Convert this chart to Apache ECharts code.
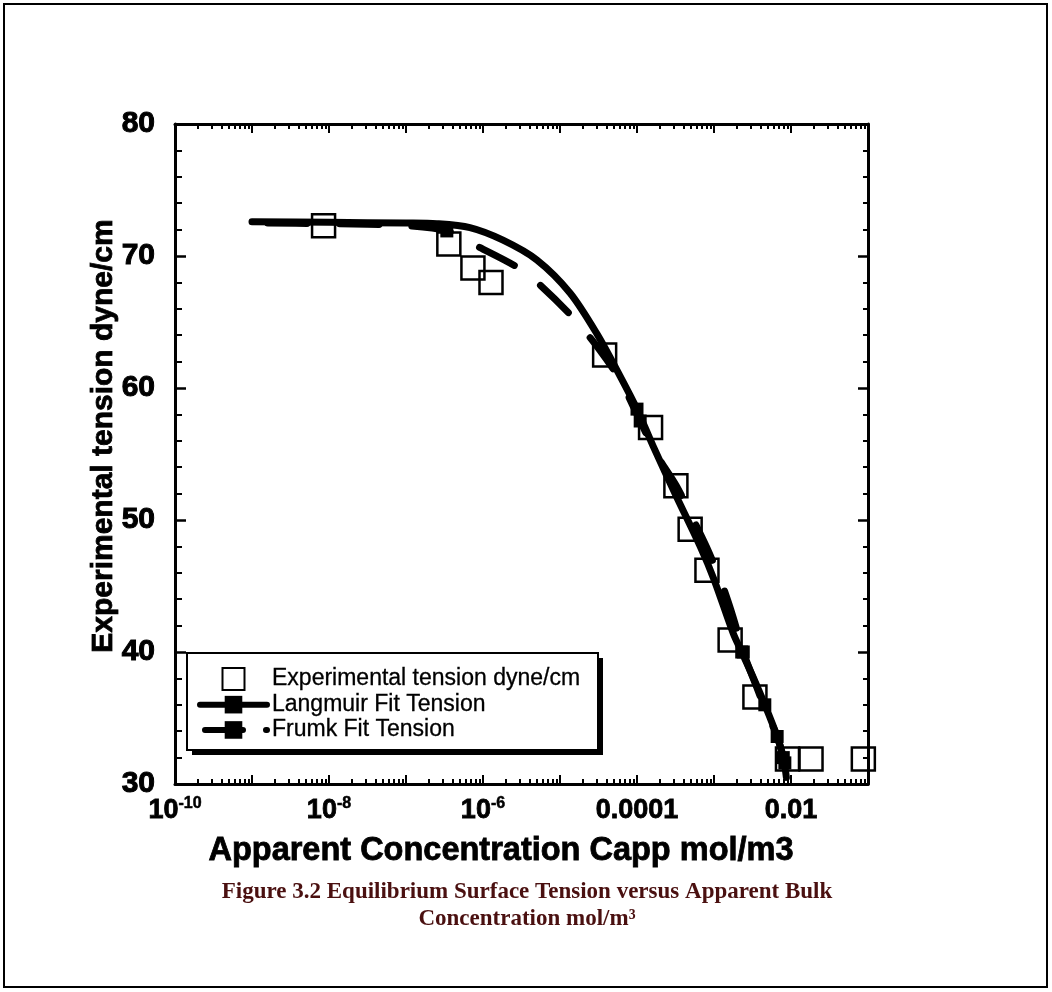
<!DOCTYPE html>
<html><head><meta charset="utf-8">
<script src="https://cdn.jsdelivr.net/npm/echarts@6/dist/echarts.min.js"></script>
<style>html,body{margin:0;padding:0;background:#fff}#c{width:1052px;height:992px}</style>
</head><body><div id="c"></div>
<script>
// ---- data ----
const expConc    = [8.5e-9, 3.6e-7, 7.4e-7, 1.27e-6, 3.8e-5, 1.5e-4, 3.2e-4, 4.9e-4, 8.1e-4, 1.62e-3, 3.4e-3, 9.0e-3, 1.82e-2, 8.7e-2];
const expTension = [72.3, 70.9, 69.1, 68.0, 62.5, 57.0, 52.6, 49.3, 46.2, 40.9, 36.6, 31.9, 31.9, 31.9];

const langConc    = [1e-9, 1e-8, 1e-7, 2.51e-7, 6.76e-7, 1.82e-6, 5.01e-6, 1.35e-5, 3.02e-5, 6.03e-5, 1.0e-4, 1.62e-4, 3.24e-4, 6.61e-4, 1.0e-3, 1.78e-3, 2.29e-3, 3.16e-3, 4.57e-3, 6.61e-3, 7.94e-3, 8.71e-3];
const langTension = [72.6, 72.55, 72.5, 72.45, 72.15, 71.2, 69.7, 67.2, 64.1, 60.9, 58.4, 55.6, 51.8, 48.0, 45.5, 41.4, 40.0, 38.2, 36.0, 33.6, 32.0, 30.5];
const langMarked  = [0,0,0,0,0,0,0,0,0,0,1,0,0,0,0,0,1,0,1,0,1,0];

const frumConc    = [1e-9, 1e-8, 1e-7, 3.39e-7, 8.71e-7, 2.88e-6, 5.75e-6, 1.55e-5, 3.16e-5, 6.03e-5, 1.10e-4, 1.78e-4, 3.24e-4, 5.01e-4, 7.94e-4, 1.26e-3, 1.78e-3, 2.40e-3, 3.55e-3, 5.01e-3, 6.61e-3, 8.32e-3, 9.33e-3];
const frumTension = [72.5, 72.45, 72.3, 71.9, 70.7, 69.1, 67.7, 65.2, 63.0, 60.6, 57.5, 55.0, 52.6, 50.4, 48.0, 45.2, 42.6, 40.0, 37.4, 35.2, 33.6, 31.6, 30.3];
const frumMarked  = [0,0,0,1,0,0,0,0,0,0,1,0,0,0,0,0,0,1,0,0,1,1,0];

const xLabelValues = [1e-10, 1e-8, 1e-6, 1e-4, 1e-2];
const xLabelTexts  = ['10^-10', '10^-8', '10^-6', '0.0001', '0.01'];
const xDecadeTicks = [1e-10, 1e-9, 1e-8, 1e-7, 1e-6, 1e-5, 1e-4, 1e-3, 1e-2, 1e-1];
const xMinorTicks = [];
xDecadeTicks.slice(0, -1).forEach(d => { for (let k = 2; k <= 9; k++) xMinorTicks.push(+(k * d).toPrecision(3)); });

const yMin = 30, yMax = 80, yStep = 10;

const xTitle = 'Apparent Concentration Capp mol/m3';
const yTitle = 'Experimental tension dyne/cm';
const caption1 = 'Figure 3.2 Equilibrium Surface Tension versus Apparent Bulk';
const caption2 = 'Concentration mol/m³';

// ---- helpers ----
function fmtX(v) {
  let best = 0, bd = Infinity;
  xLabelValues.forEach((lv, i) => { const d = Math.abs(Math.log10(lv) - Math.log10(v)); if (d < bd) { bd = d; best = i; } });
  if (bd > 0.01) return '';
  const t = xLabelTexts[best];
  if (t.indexOf('^') >= 0) { const p = t.split('^'); return '{b|' + p[0] + '}{s|' + p[1] + '}'; }
  return '{b|' + t + '}';
}
function lineData(xs, ys, marks) {
  return xs.map((x, i) => marks[i] ? { value: [x, ys[i]] } : { value: [x, ys[i]], symbol: 'none' });
}

const boldFont = 'Liberation Sans';
const axLine = { show: true, lineStyle: { color: '#000', width: 3 } };

function xAxisDef(pos, ticks, len, showLine, labels) {
  return {
    type: 'log', logBase: 10, min: 1e-10, max: 1e-1, position: pos, gridIndex: 0,
    axisLine: showLine ? axLine : { show: false },
    axisTick: { show: true, inside: true, length: len, customValues: ticks, lineStyle: { color: '#000', width: 2 } },
    axisLabel: labels ? {
      show: true, customValues: xLabelValues, formatter: fmtX, margin: 12, color: '#000',
      rich: {
        b: { fontFamily: boldFont, fontWeight: 'bold', fontSize: 27, color: '#000', textBorderColor: '#000', textBorderWidth: 0.8, lineHeight: 30 },
        s: { fontFamily: boldFont, fontWeight: 'bold', fontSize: 16, color: '#000', textBorderColor: '#000', textBorderWidth: 0.5, lineHeight: 30, verticalAlign: 'top' }
      }
    } : { show: false },
    splitLine: { show: false }, minorTick: { show: false }
  };
}

const xAxes = [
  xAxisDef('bottom', xDecadeTicks, 9, true, true),
  xAxisDef('bottom', xMinorTicks, 5, false, false),
  xAxisDef('top', xDecadeTicks, 9, true, false),
  xAxisDef('top', xMinorTicks, 5, false, false)
];

function yAxisDef(pos, labels, len, mlen) {
  return {
    type: 'value', min: yMin, max: yMax, interval: yStep, position: pos, gridIndex: 0,
    axisLine: axLine,
    axisTick: { show: true, inside: true, length: len, lineStyle: { color: '#000', width: 2.5 } },
    minorTick: { show: true, splitNumber: 5, length: mlen, lineStyle: { color: '#000', width: 2 } },
    splitLine: { show: false },
    axisLabel: labels ? { show: true, margin: 20, fontFamily: boldFont, fontWeight: 'bold', fontSize: 30, color: '#000', textBorderColor: '#000', textBorderWidth: 1 } : { show: false }
  };
}
const yAxes = [yAxisDef('left', true, 11, 7), yAxisDef('right', false, 10, 5)];

const chart = echarts.init(document.getElementById('c'), null, { renderer: 'canvas' });
chart.setOption({
  animation: false,
  backgroundColor: '#fff',
  grid: { left: 175, top: 124, width: 693, height: 660, outerBoundsMode: 'none', containLabel: false },
  xAxis: xAxes,
  yAxis: yAxes,
  legend: {
    orient: 'vertical', left: 187, top: 653,
    padding: [14, 20, 9, 10], itemGap: 2, itemWidth: 67, itemHeight: 22,
    backgroundColor: 'transparent', borderWidth: 0,
    lineStyle: { width: 6 },
    textStyle: { fontFamily: 'Liberation Sans', fontSize: 23, color: '#000', textBorderColor: '#000', textBorderWidth: 0.3 },
    data: [
      { name: 'Experimental tension dyne/cm', icon: 'path://M0,0H10V10H0Z' },
      'Langmuir Fit Tension',
      { name: 'Frumk Fit Tension', lineStyle: { type: [38, 23], cap: 'round' } }
    ]
  },
  series: [
    {
      name: 'Experimental tension dyne/cm', type: 'scatter', symbol: 'rect', symbolSize: 23, z: 1,
      itemStyle: { color: 'rgba(255,255,255,0)', borderColor: '#000', borderWidth: 2.5, opacity: 1 },
      data: expConc.map((c, i) => [c, expTension[i]])
    },
    {
      name: 'Langmuir Fit Tension', type: 'line', symbol: 'rect', symbolSize: 13, showSymbol: true, smooth: 0.3, z: 3,
      lineStyle: { color: '#000', width: 7, cap: 'round', join: 'round' },
      itemStyle: { color: '#000', borderWidth: 0 },
      data: lineData(langConc, langTension, langMarked)
    },
    {
      name: 'Frumk Fit Tension', type: 'line', symbol: 'rect', symbolSize: 13, showSymbol: true, smooth: 0.3, z: 2,
      lineStyle: { color: '#000', width: 7, type: [39, 33], dashOffset: 56, cap: 'round', join: 'round' },
      itemStyle: { color: '#000', borderWidth: 0 },
      data: lineData(frumConc, frumTension, frumMarked)
    }
  ],
  graphic: [
    { type: 'rect', z: 0, shape: { x: 4, y: 4, width: 1043, height: 983 }, style: { fill: null, stroke: '#000', lineWidth: 2 }, silent: true },
    { type: 'rect', z: 0, shape: { x: 192, y: 658, width: 411, height: 97 }, style: { fill: '#000' }, silent: true },
    { type: 'rect', z: 1, shape: { x: 187, y: 653, width: 411, height: 97 }, style: { fill: '#fff', stroke: '#000', lineWidth: 2 }, silent: true },
    { type: 'text', x: 104, y: 436, rotation: Math.PI / 2, style: { text: yTitle, align: 'center', verticalAlign: 'middle', fontFamily: boldFont, fontWeight: 'bold', fontSize: 30, fill: '#000', stroke: '#000', lineWidth: 0.8 } },
    { type: 'text', x: 501, y: 851, style: { text: xTitle, align: 'center', verticalAlign: 'middle', fontFamily: boldFont, fontWeight: 'bold', fontSize: 32.5, fill: '#000', stroke: '#000', lineWidth: 0.8 } },
    { type: 'text', x: 527, y: 892, style: { text: caption1, align: 'center', verticalAlign: 'middle', fontFamily: 'Liberation Serif', fontWeight: 'bold', fontSize: 23, fill: '#4a1010' } },
    { type: 'text', x: 527, y: 919, style: { text: caption2, align: 'center', verticalAlign: 'middle', fontFamily: 'Liberation Serif', fontWeight: 'bold', fontSize: 23, fill: '#4a1010' } }
  ]
});
</script></body></html>
